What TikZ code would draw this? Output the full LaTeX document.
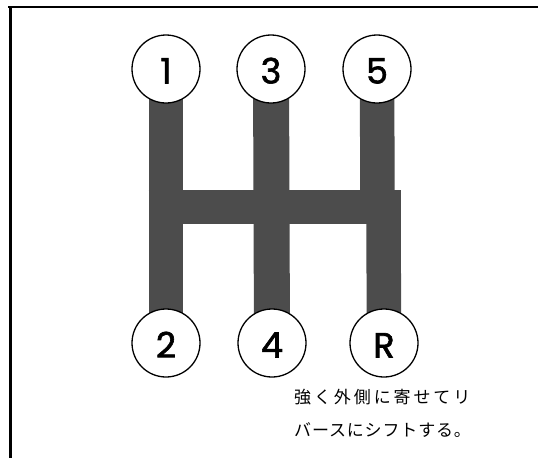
\documentclass[tikz,border=0pt]{standalone}
\usepackage{fontspec}
\newfontfamily\digitfont[FakeBold=1.8]{Poppins}
\newfontfamily\cjkA[LetterSpace=17]{Noto Sans CJK JP}
\newfontfamily\cjkB[LetterSpace=5]{Noto Sans CJK JP}
\usetikzlibrary{backgrounds}
\definecolor{barfill}{gray}{0.3}
\tikzset{
  gear/.style={circle, draw=black, line width=1.3pt, fill=white, minimum size=68pt, inner sep=0pt,
    text height=29pt, text depth=0pt,
    font=\digitfont\fontsize{35}{35}\selectfont},
  bar/.style={draw=barfill, line width=34.5pt, line cap=butt},
  frameline/.style={draw=black, line cap=butt},
  note/.style={anchor=west, inner sep=0pt}
}
\begin{document}
\begin{tikzpicture}[x=1pt, y=-1pt]
\useasboundingbox (0,0) rectangle (538,458);
% frame
\coordinate (ftl) at (8,7);
\coordinate (ftr) at (538,7);
\coordinate (fl1) at (10.5,7);
\coordinate (fl2) at (10.5,458);
\draw[frameline, line width=2pt] (ftl) -- (ftr);
\draw[frameline, line width=2.8pt] (fl1) -- (fl2);
% gear positions
\node[gear] (g1) at (166,69) {1};
\node[gear] (g3) at (271,69) {3};
\node[gear] (g5) at (377,69) {5};
\node[gear] (g2) at (166,343) {2};
\node[gear] (g4) at (272,343) {4};
\node[gear] (gR) at (384,343) {R};
% gate
\coordinate (hL) at (148.5,206.5);
\coordinate (hR) at (400.5,206.5);
\coordinate (u5) at (377.5,206.5);
\coordinate (dR) at (383.5,206.5);
\begin{scope}[on background layer]
\draw[bar] (g1.center) -- (g2.center);
\draw[bar, line width=36pt] (g3.center) -- (g4.center);
\draw[bar] (g5.center) -- (u5);
\draw[bar] (dR) -- (gR.center);
\draw[bar, line width=34pt] (hL) -- (hR);
\end{scope}
% note
\node[note] (n1) at (294,397) {\cjkA\fontsize{17}{17}\selectfont 強く外側に寄せてリ};
\node[note] (n2) at (294,430) {\cjkB\fontsize{17}{17}\selectfont バースにシフトする。};
\end{tikzpicture}
\end{document}
